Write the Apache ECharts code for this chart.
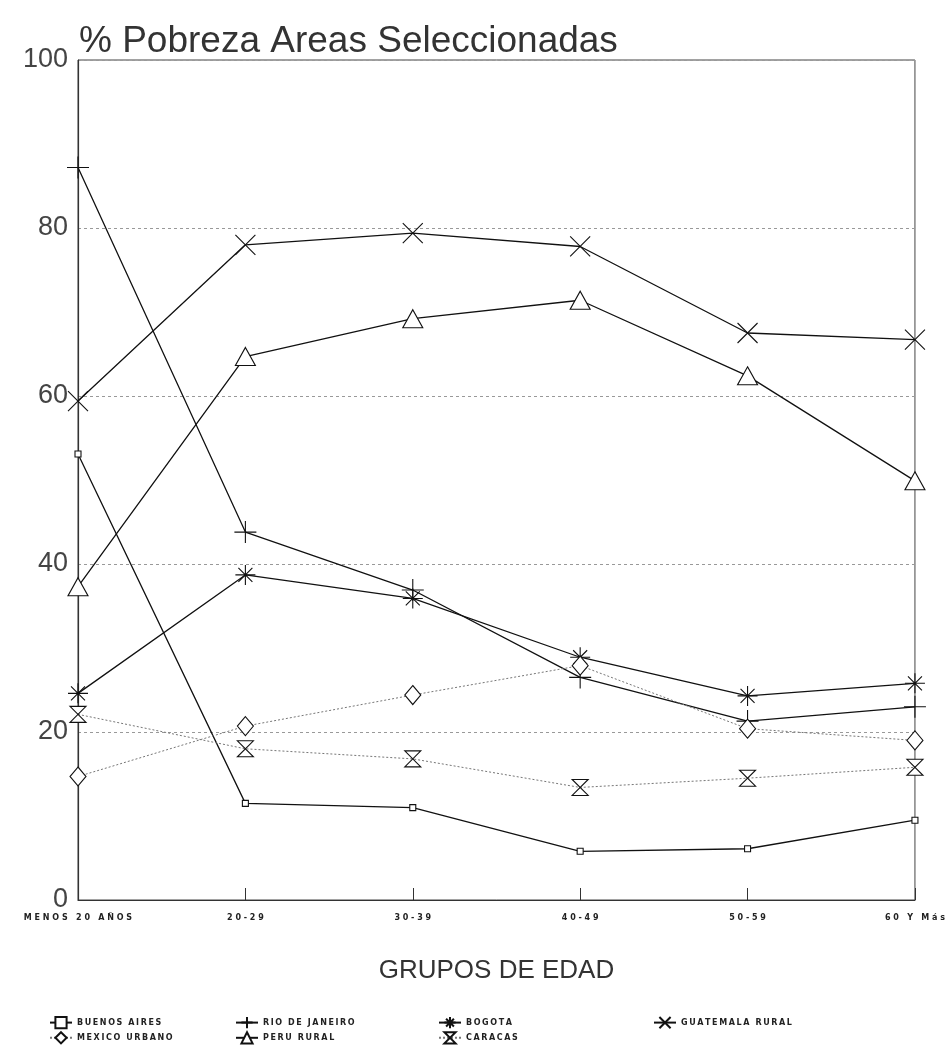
<!DOCTYPE html>
<html>
<head>
<meta charset="utf-8">
<script src="https://cdn.jsdelivr.net/npm/echarts@6/dist/echarts.min.js"></script>
<style>
  html, body { margin: 0; padding: 0; background: #fff; }
  #chart { width: 948px; height: 1055px; }
</style>
</head>
<body>
<div id="chart"></div>
<script>
// Age groups along the x axis
const ageGroups = ['MENOS 20 AÑOS', '20-29', '30-39', '40-49', '50-59', '60 Y Más'];
const yTicks = [0, 20, 40, 60, 80, 100];

// Poverty rate (%) per area and age group
const buenosAires   = [53.1, 11.5, 11.0, 5.8, 6.1, 9.5];
const rioDeJaneiro  = [87.2, 43.8, 36.9, 26.5, 21.3, 23.0];
const bogota        = [24.6, 38.7, 35.9, 28.9, 24.3, 25.8];
const guatemalaRural= [59.4, 78.0, 79.4, 77.8, 67.5, 66.7];
const mexicoUrbano  = [14.7, 20.7, 24.4, 27.9, 20.4, 19.0];
const peruRural     = [37.3, 64.7, 69.2, 71.4, 62.4, 49.9];
const caracas       = [22.1, 18.0, 16.8, 13.4, 14.5, 15.8];

// Outline marker shapes
const SYM_PLUS  = 'path://M0,10 L20,10 M10,0 L10,20';
const SYM_STAR  = 'path://M0,10 L20,10 M10,0 L10,20 M3,3 L17,17 M17,3 L3,17';
const SYM_CROSS = 'path://M0,2 L20,18 M20,2 L0,18';
const SYM_GLASS = 'path://M0,0 L20,0 L0,20 L20,20 Z';
const SYM_DIAM  = 'path://M10,0 L20,12 L10,24 L0,12 Z';
const SYM_TRI   = 'path://M10,0 L20,18 L0,18 Z';
const SYM_SQ    = 'path://M0,0 L10,0 L10,10 L0,10 Z';

function lineSeries(name, data, symbol, size, dotted) {
  return {
    name: name,
    type: 'line',
    data: data,
    symbol: symbol,
    symbolSize: size,
    showAllSymbol: true,
    lineStyle: {
      color: dotted ? '#777' : '#111',
      width: dotted ? 1 : 1.3,
      type: dotted ? [2, 2] : 'solid'
    },
    itemStyle: { color: '#fff', borderColor: '#111', borderWidth: 1.1 },
    emphasis: { disabled: true },
    animation: false
  };
}

const legendText = { fontFamily: 'DejaVu Sans', fontWeight: 'bold', fontSize: 8, color: '#222' };
function legendBlock(names, left, top) {
  return {
    data: names,
    orient: 'vertical',
    left: left,
    top: top,
    itemWidth: 22,
    itemHeight: 14,
    itemGap: 2,
    textStyle: legendText,
    formatter: n => n.toUpperCase().split('').join('\u2009')
  };
}

const chart = echarts.init(document.getElementById('chart'), null, { renderer: 'canvas' });
chart.setOption({
  backgroundColor: '#fff',
  animation: false,
  title: {
    text: '% Pobreza Areas Seleccionadas',
    left: 74,
    top: 18,
    textStyle: { fontFamily: 'Liberation Sans', fontWeight: 'normal', fontSize: 37, color: '#333' }
  },
  grid: { left: 78, right: 30, top: 60, bottom: 155, show: true, borderColor: '#444', borderWidth: 1 },
  xAxis: {
    type: 'category',
    data: ageGroups,
    boundaryGap: false,
    name: 'GRUPOS DE EDAD',
    nameLocation: 'middle',
    nameGap: 58,
    nameTextStyle: { fontFamily: 'Liberation Sans', fontSize: 26, color: '#333' },
    axisLine: { lineStyle: { color: '#333', width: 1.2 } },
    axisTick: { inside: true, length: 12, lineStyle: { color: '#333' } },
    axisLabel: {
      fontFamily: 'DejaVu Sans', fontWeight: 'bold', fontSize: 8, color: '#222', margin: 14,
      interval: 0,
      formatter: v => v.split('').join(' ')
    },
    splitLine: { show: false }
  },
  yAxis: {
    type: 'value',
    min: 0,
    max: 100,
    interval: 20,
    axisLine: { show: true, lineStyle: { color: '#333', width: 1.2 } },
    axisTick: { show: false },
    axisLabel: {
      fontFamily: 'Liberation Sans', fontSize: 27, color: '#444', margin: 10,
      formatter: v => yTicks.includes(v) ? String(v) : ''
    },
    splitLine: { show: true, lineStyle: { color: '#999', width: 1, type: [3, 3] } }
  },
  legend: [
    legendBlock(['Buenos Aires', 'Mexico Urbano'], 44, 1011),
    legendBlock(['Rio de Janeiro', 'Peru Rural'], 230, 1011),
    legendBlock(['Bogota', 'Caracas'], 433, 1011),
    legendBlock(['Guatemala Rural'], 648, 1011)
  ],
  series: [
    lineSeries('Buenos Aires', buenosAires, SYM_SQ, 6, false),
    lineSeries('Rio de Janeiro', rioDeJaneiro, SYM_PLUS, 22, false),
    lineSeries('Bogota', bogota, SYM_STAR, 20, false),
    lineSeries('Guatemala Rural', guatemalaRural, SYM_CROSS, 20, false),
    lineSeries('Mexico Urbano', mexicoUrbano, SYM_DIAM, [16, 19], true),
    lineSeries('Peru Rural', peruRural, SYM_TRI, [20, 18], false),
    lineSeries('Caracas', caracas, SYM_GLASS, [16, 16], true)
  ]
});
</script>
</body>
</html>
